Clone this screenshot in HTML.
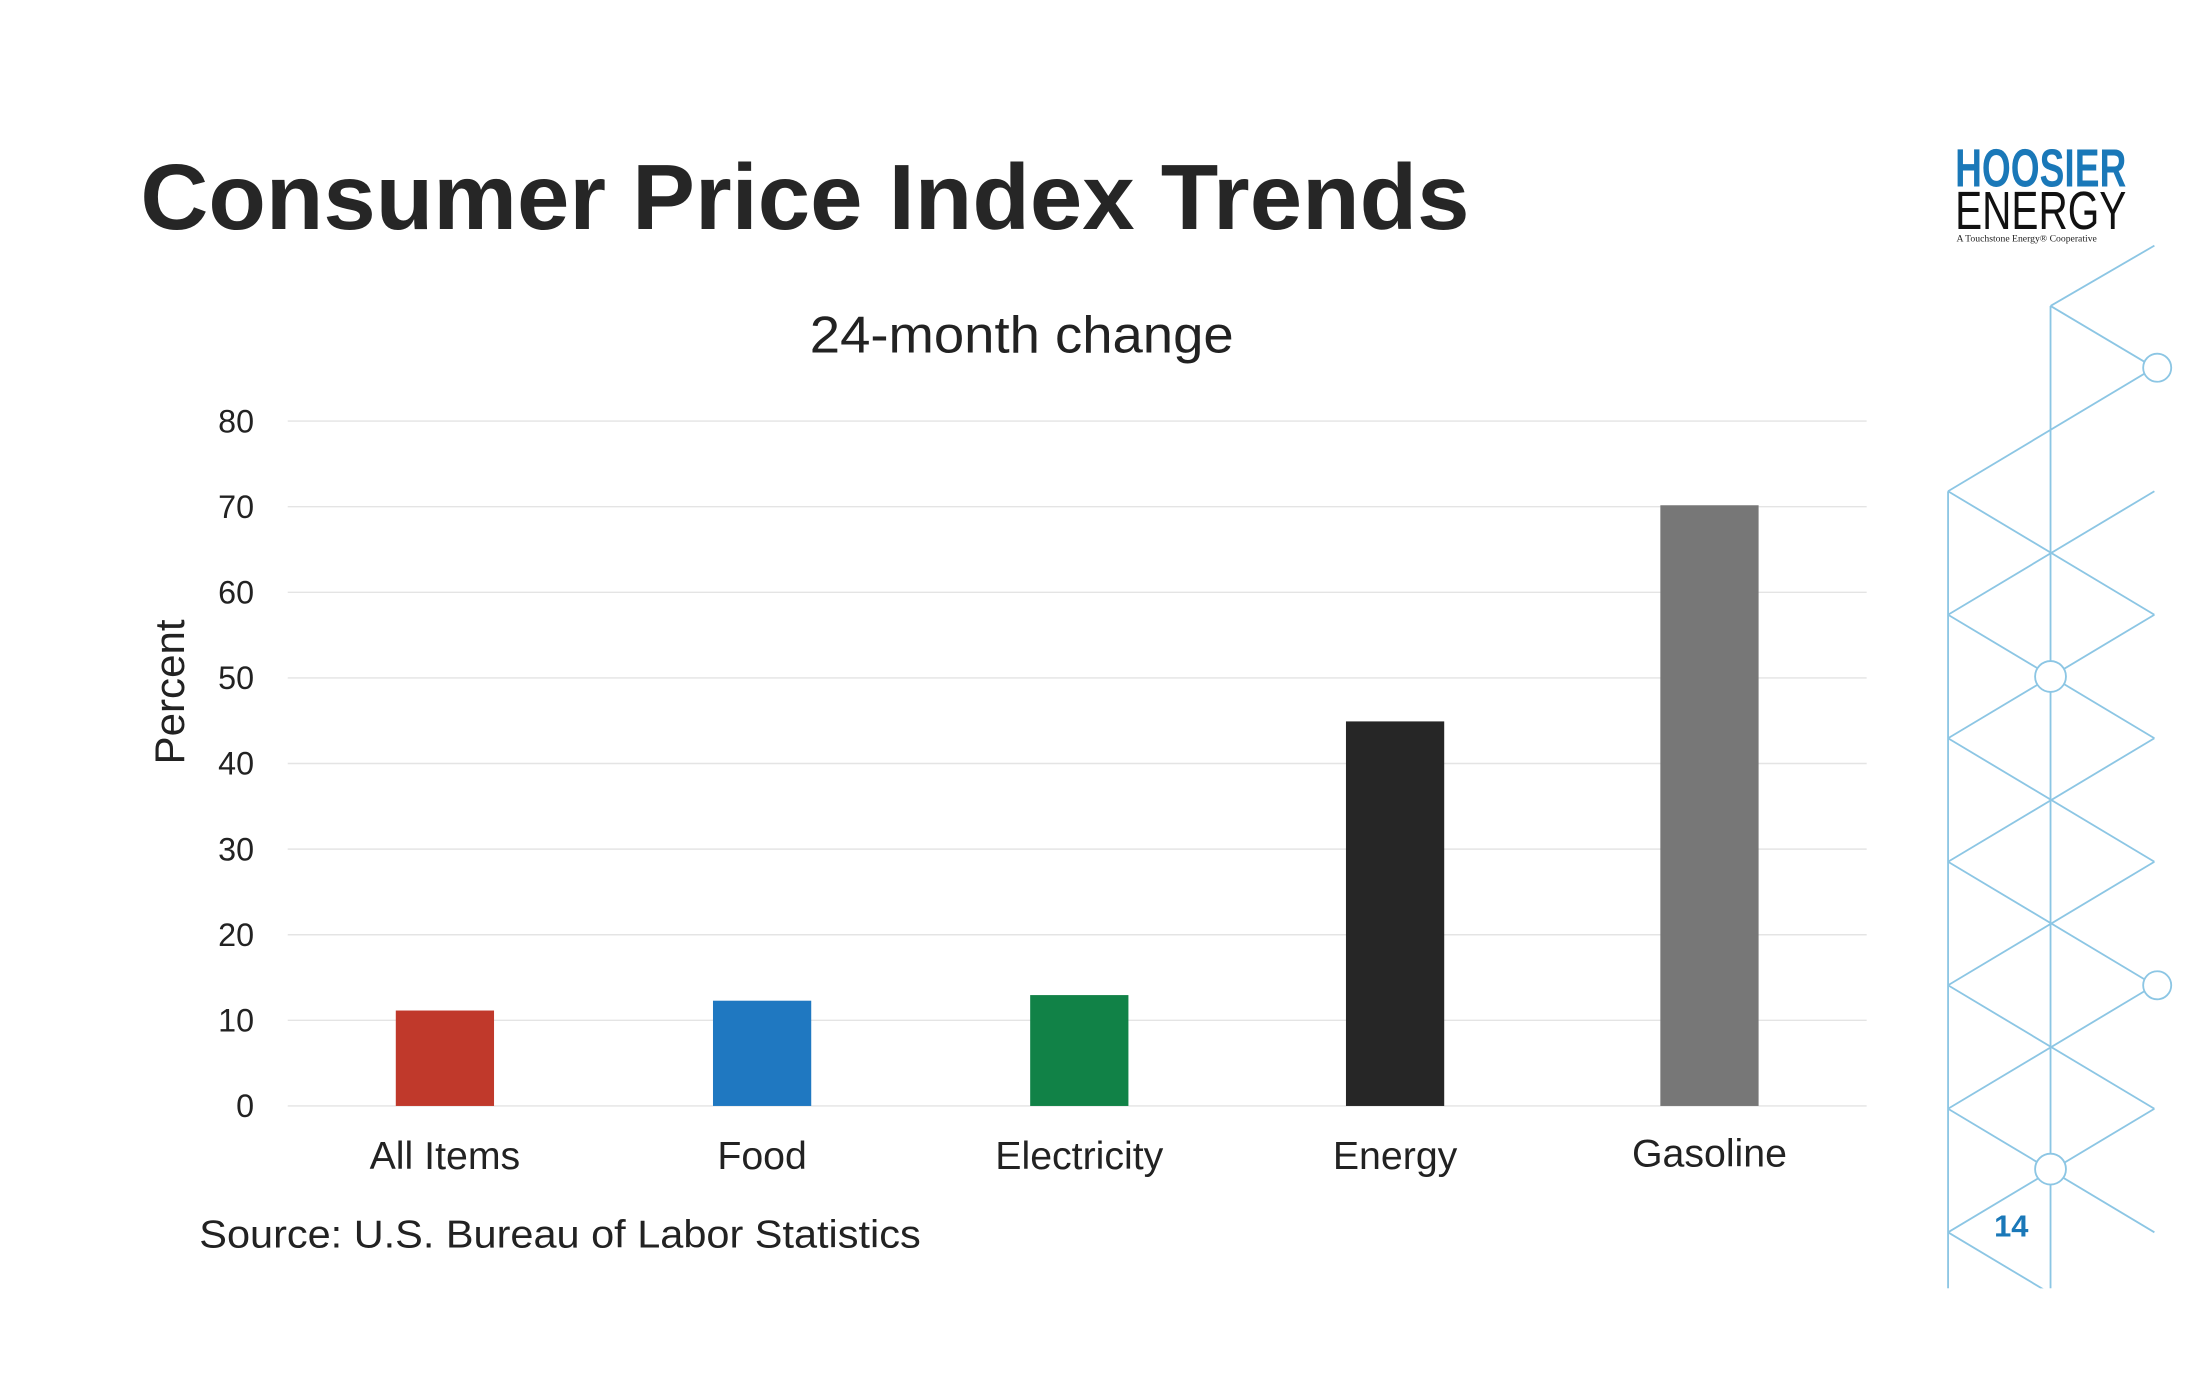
<!DOCTYPE html>
<html><head><meta charset="utf-8"><style>
html,body{margin:0;padding:0;background:#fff}
svg{display:block}
</style></head><body>
<svg width="2200" height="1376" viewBox="0 0 1567.5 980.4" preserveAspectRatio="none" xmlns="http://www.w3.org/2000/svg">
<rect width="1568" height="981" fill="#fff"/>
<text x="100" y="163" font-family="Liberation Sans, sans-serif" font-weight="bold" font-size="66" fill="#262626" textLength="947" lengthAdjust="spacingAndGlyphs">Consumer Price Index Trends</text>
<!-- logo -->
<text x="1393" y="133" font-family="Liberation Sans, sans-serif" font-weight="bold" font-size="38" fill="#1a78b8" textLength="122" lengthAdjust="spacingAndGlyphs">HOOSIER</text>
<text x="1393" y="163" font-family="Liberation Sans, sans-serif" font-size="38" fill="#111" textLength="122" lengthAdjust="spacingAndGlyphs">ENERGY</text>
<text x="1394" y="172" font-family="Liberation Serif, serif" font-size="7" fill="#222" textLength="100" lengthAdjust="spacingAndGlyphs">A Touchstone Energy® Cooperative</text>
<!-- lattice -->
<defs><clipPath id="c"><rect x="1380" y="160" width="160" height="758"/></clipPath></defs>
<g stroke="#8cc6e4" stroke-width="1.3" fill="none" clip-path="url(#c)">
<line x1="1388" y1="350" x2="1388" y2="918"/>
<line x1="1461" y1="218" x2="1461" y2="918"/>
<line x1="1461" y1="218" x2="1535" y2="175"/>
<line x1="1461" y1="218" x2="1535" y2="262"/>
<line x1="1388" y1="350" x2="1535" y2="262"/><line x1="1388" y1="350" x2="1535" y2="438"/>
<line x1="1388" y1="438" x2="1535" y2="350"/><line x1="1388" y1="438" x2="1535" y2="526"/>
<line x1="1388" y1="526" x2="1535" y2="438"/><line x1="1388" y1="526" x2="1535" y2="614"/>
<line x1="1388" y1="614" x2="1535" y2="526"/><line x1="1388" y1="614" x2="1535" y2="702"/>
<line x1="1388" y1="702" x2="1535" y2="614"/><line x1="1388" y1="702" x2="1535" y2="790"/>
<line x1="1388" y1="790" x2="1535" y2="702"/><line x1="1388" y1="790" x2="1535" y2="878"/>
<line x1="1388" y1="878" x2="1535" y2="790"/><line x1="1388" y1="878" x2="1535" y2="966"/>
</g>
<g stroke="#8cc6e4" stroke-width="1.3" fill="#fff">
<circle cx="1461" cy="482" r="11"/><circle cx="1461" cy="833" r="11"/>
<circle cx="1537" cy="262" r="10"/><circle cx="1537" cy="702" r="10"/>
</g>
<text x="1433" y="881" text-anchor="middle" font-family="Liberation Sans, sans-serif" font-weight="bold" font-size="22" fill="#1a78b8">14</text>
<!-- chart -->
<text x="728" y="251" text-anchor="middle" font-family="Liberation Sans, sans-serif" font-size="37" fill="#222" textLength="302" lengthAdjust="spacingAndGlyphs">24-month change</text>
<g stroke="#e4e4e4" stroke-width="1">
<line x1="205" y1="300" x2="1330" y2="300"/><line x1="205" y1="361" x2="1330" y2="361"/>
<line x1="205" y1="422" x2="1330" y2="422"/><line x1="205" y1="483" x2="1330" y2="483"/>
<line x1="205" y1="544" x2="1330" y2="544"/><line x1="205" y1="605" x2="1330" y2="605"/>
<line x1="205" y1="666" x2="1330" y2="666"/><line x1="205" y1="727" x2="1330" y2="727"/>
<line x1="205" y1="788" x2="1330" y2="788"/>
</g>
<g font-family="Liberation Sans, sans-serif" font-size="23" fill="#222" text-anchor="end">
<text x="181" y="308">80</text><text x="181" y="369">70</text><text x="181" y="430">60</text>
<text x="181" y="491">50</text><text x="181" y="552">40</text><text x="181" y="613">30</text>
<text x="181" y="674">20</text><text x="181" y="735">10</text><text x="181" y="796">0</text>
</g>
<text transform="translate(131,493) rotate(-90)" text-anchor="middle" font-family="Liberation Sans, sans-serif" font-size="30" fill="#222">Percent</text>
<rect x="282" y="720" width="70" height="68" fill="#c0392b"/>
<rect x="508" y="713" width="70" height="75" fill="#1f78c1"/>
<rect x="734" y="709" width="70" height="79" fill="#118247"/>
<rect x="959" y="514" width="70" height="274" fill="#262626"/>
<rect x="1183" y="360" width="70" height="428" fill="#777"/>
<g font-family="Liberation Sans, sans-serif" font-size="28" fill="#222" text-anchor="middle">
<text x="317" y="833">All Items</text><text x="543" y="833">Food</text>
<text x="769" y="833">Electricity</text><text x="994" y="833">Energy</text>
<text x="1218" y="831">Gasoline</text>
</g>
<text x="142" y="889" font-family="Liberation Sans, sans-serif" font-size="28" fill="#222" textLength="514" lengthAdjust="spacingAndGlyphs">Source: U.S. Bureau of Labor Statistics</text>
</svg>
</body></html>
